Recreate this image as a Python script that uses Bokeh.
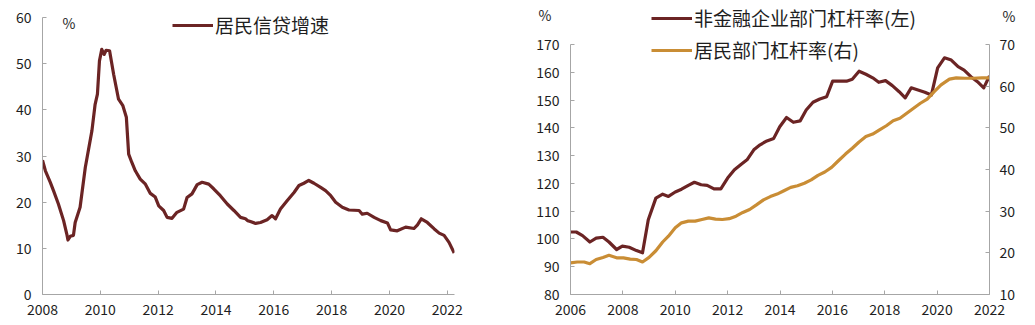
from bokeh.plotting import figure
from bokeh.layouts import row
from bokeh.models import Range1d, LinearAxis, Legend, LegendItem, Label, FixedTicker
from bokeh.embed import file_html
from bokeh.resources import INLINE

# ---- Left panel: household credit growth (%) ----
credit_t = [2008.0, 2008.1, 2008.27, 2008.38, 2008.55, 2008.73, 2008.84, 2008.88, 2008.96, 2009.07,
            2009.13, 2009.3, 2009.48, 2009.71, 2009.82, 2009.9, 2009.97, 2010.05, 2010.13, 2010.2,
            2010.32, 2010.46, 2010.63, 2010.78, 2010.9, 2010.98, 2011.09, 2011.21, 2011.38, 2011.56,
            2011.73, 2011.9, 2012.02, 2012.19, 2012.31, 2012.48, 2012.65, 2012.88, 2013.0, 2013.17,
            2013.35, 2013.52, 2013.75, 2013.92, 2014.15, 2014.39, 2014.62, 2014.85, 2015.02, 2015.1,
            2015.19, 2015.37, 2015.54, 2015.77, 2015.94, 2016.06, 2016.23, 2016.46, 2016.7, 2016.87,
            2017.04, 2017.21, 2017.39, 2017.62, 2017.79, 2017.97, 2018.14, 2018.37, 2018.6, 2018.95,
            2019.06, 2019.23, 2019.47, 2019.7, 2019.93, 2020.04, 2020.27, 2020.56, 2020.85, 2020.97,
            2021.1, 2021.31, 2021.55, 2021.72, 2021.89, 2022.06, 2022.24]
credit_growth = [29.1, 26.8, 24.3, 22.5, 19.6, 16.0, 13.1, 11.8, 12.6, 12.8,
                 15.6, 18.9, 27.5, 35.5, 41.2, 43.4, 50.6, 53.1, 52.0, 52.9,
                 52.8, 47.7, 42.3, 40.9, 38.4, 30.4, 28.6, 26.8, 25.0, 23.9,
                 21.9, 21.1, 19.2, 18.2, 16.7, 16.5, 17.8, 18.5, 21.0, 21.8,
                 23.8, 24.3, 23.9, 22.9, 21.4, 19.6, 18.2, 16.7, 16.4, 16.0,
                 15.8, 15.4, 15.6, 16.2, 17.1, 16.4, 18.5, 20.3, 22.1, 23.6,
                 24.1, 24.7, 24.1, 23.2, 22.5, 21.4, 20.0, 18.9, 18.3, 18.2,
                 17.4, 17.6, 16.7, 16.0, 15.5, 14.0, 13.8, 14.6, 14.3, 15.1,
                 16.4, 15.6, 14.2, 13.3, 12.8, 11.3, 9.0]
left_xticks = [2008, 2010, 2012, 2014, 2016, 2018, 2020, 2022]
left_yticks = [0, 10, 20, 30, 40, 50, 60]

# ---- Right panel: leverage ratios (%) ----
corp_t = [2006.0, 2006.22, 2006.46, 2006.74, 2006.98, 2007.24, 2007.47, 2007.76, 2007.98, 2008.24,
          2008.52, 2008.75, 2008.97, 2009.26, 2009.52, 2009.74, 2010.0, 2010.24, 2010.5, 2010.73,
          2010.99, 2011.22, 2011.48, 2011.74, 2012.0, 2012.26, 2012.52, 2012.74, 2013.0, 2013.24,
          2013.5, 2013.76, 2013.99, 2014.25, 2014.51, 2014.77, 2015.0, 2015.26, 2015.52, 2015.78,
          2016.01, 2016.27, 2016.54, 2016.76, 2017.02, 2017.28, 2017.54, 2017.77, 2018.03, 2018.29,
          2018.55, 2018.78, 2019.01, 2019.27, 2019.53, 2019.78, 2020.02, 2020.28, 2020.54, 2020.8,
          2021.03, 2021.29, 2021.54, 2021.78, 2022.0]
corp_leverage = [102.5, 102.5, 101.2, 98.9, 100.3, 100.6, 98.9, 96.2, 97.4, 97.0,
                 95.8, 95.0, 106.9, 114.7, 116.1, 115.3, 116.9, 117.9, 119.3, 120.4,
                 119.5, 119.3, 118.0, 118.0, 121.9, 124.9, 126.9, 128.5, 132.1, 133.9,
                 135.3, 136.2, 140.4, 143.7, 142.0, 142.5, 146.4, 149.2, 150.4, 151.2,
                 156.8, 156.8, 156.8, 157.5, 160.4, 159.3, 158.0, 156.4, 157.0, 155.2,
                 153.0, 150.8, 154.4, 153.6, 152.8, 151.8, 161.6, 165.2, 164.4, 162.0,
                 160.8, 158.4, 156.6, 154.4, 158.7]
hh_t = [2006.0, 2006.26, 2006.52, 2006.74, 2006.98, 2007.24, 2007.47, 2007.76, 2008.02, 2008.28,
        2008.52, 2008.75, 2009.0, 2009.26, 2009.52, 2009.74, 2010.0, 2010.24, 2010.5, 2010.76,
        2011.02, 2011.28, 2011.54, 2011.8, 2012.06, 2012.32, 2012.58, 2012.84, 2013.1, 2013.37,
        2013.63, 2013.89, 2014.15, 2014.41, 2014.67, 2014.93, 2015.19, 2015.45, 2015.71, 2015.97,
        2016.23, 2016.5, 2016.76, 2017.02, 2017.28, 2017.54, 2017.8, 2018.06, 2018.32, 2018.58,
        2018.84, 2019.1, 2019.36, 2019.62, 2019.89, 2020.15, 2020.47, 2020.73, 2021.06, 2021.38,
        2021.71, 2022.0]
hh_leverage = [17.6, 17.8, 17.8, 17.4, 18.4, 18.9, 19.4, 18.8, 18.8, 18.5,
               18.4, 17.8, 18.9, 20.5, 22.6, 24.0, 26.0, 27.2, 27.6, 27.6,
               28.0, 28.4, 28.1, 28.0, 28.2, 28.8, 29.7, 30.4, 31.5, 32.7,
               33.5, 34.1, 34.9, 35.7, 36.1, 36.7, 37.5, 38.6, 39.4, 40.5,
               42.1, 43.7, 45.1, 46.6, 47.9, 48.5, 49.5, 50.5, 51.7, 52.3,
               53.5, 54.7, 55.9, 56.9, 58.7, 60.3, 61.7, 62.0, 61.9, 61.9,
               62.0, 62.0]
right_xticks = [2006, 2008, 2010, 2012, 2014, 2016, 2018, 2020, 2022]
right_yticks_left = [80, 90, 100, 110, 120, 130, 140, 150, 160, 170]
right_yticks_right = [10, 20, 30, 40, 50, 60, 70]
unit_label = "%"

DARK = "#6b2424"
GOLD = "#c98d35"
AXIS = "#a6a6a6"
TXT = "#1e1e1e"
FONT = "Noto Sans CJK SC"


def style_axis(ax, ticks, bounds=None):
    ax.ticker = FixedTicker(ticks=ticks)
    if bounds is not None:
        ax.bounds = bounds
    ax.axis_line_color = AXIS
    ax.major_tick_line_color = AXIS
    ax.major_tick_in = 4
    ax.major_tick_out = 0
    ax.minor_tick_line_color = None
    ax.major_label_text_font = FONT
    ax.major_label_text_font_size = "14px"
    ax.major_label_text_color = TXT


def unit_axis(range_name, pos, align, standoff):
    # an axis that only carries the "%" unit mark near the top of the panel
    ax = LinearAxis(y_range_name=range_name)
    ax.ticker = FixedTicker(ticks=[pos])
    ax.major_label_overrides = {pos: unit_label}
    ax.axis_line_color = None
    ax.major_tick_line_color = None
    ax.minor_tick_line_color = None
    ax.major_tick_in = 0
    ax.major_tick_out = 0
    ax.major_label_standoff = standoff
    ax.major_label_text_align = align
    ax.major_label_text_font = FONT
    ax.major_label_text_font_size = "14px"
    ax.major_label_text_color = TXT
    return ax


# Frames share top (y=2) and bottom (y=294); axis lines are limited by bounds.
# Left figure
p1 = figure(width=500, height=325, x_range=Range1d(2008, 2022.25), y_range=Range1d(0, 63.25),
            output_backend="svg", toolbar_location=None,
            min_border_left=42, min_border_right=46, min_border_top=2, min_border_bottom=31)
p1.outline_line_color = None
p1.grid.grid_line_color = None
style_axis(p1.xaxis[0], left_xticks)
style_axis(p1.yaxis[0], left_yticks, bounds=(0, 60))
p1.xaxis.major_label_standoff = 9
p1.yaxis.major_label_standoff = 11
r1 = p1.line(credit_t, credit_growth, line_color=DARK, line_width=3.2, line_join="round")
leg1 = Legend(items=[LegendItem(label="居民信贷增速", renderers=[r1])],
              location=(130, 256), orientation="vertical",
              background_fill_alpha=0, border_line_color=None, padding=0, margin=0,
              glyph_width=41, glyph_height=20, label_height=20, label_standoff=2,
              label_text_font=FONT, label_text_font_size="19px", label_text_color=TXT)
p1.add_layout(leg1)
p1.add_layout(Label(x=20, y=272, x_units="screen", y_units="screen", text=unit_label,
                    text_baseline="middle", text_align="left",
                    text_font=FONT, text_font_size="14px", text_color=TXT))

# Right figure
p2 = figure(width=535, height=325, x_range=Range1d(2006, 2022), y_range=Range1d(80, 185.12),
            output_backend="svg", toolbar_location=None,
            min_border_left=70, min_border_right=46, min_border_top=2, min_border_bottom=31)
p2.outline_line_color = None
p2.grid.grid_line_color = None
p2.extra_y_ranges = {"hh": Range1d(10, 80.08)}
style_axis(p2.xaxis[0], right_xticks)
style_axis(p2.yaxis[0], right_yticks_left, bounds=(80, 170))
p2.xaxis.major_label_standoff = 9
p2.yaxis.major_label_standoff = 11
ax_r = LinearAxis(y_range_name="hh")
style_axis(ax_r, right_yticks_right, bounds=(10, 70))
ax_r.major_label_standoff = 10
p2.add_layout(ax_r, "right")
p2.add_layout(unit_axis("default", 180.8, "left", -18), "left")
p2.add_layout(unit_axis("hh", 76.8, "right", -16), "right")
rc = p2.line(corp_t, corp_leverage, line_color=DARK, line_width=3.2, line_join="round")
rh = p2.line(hh_t, hh_leverage, line_color=GOLD, line_width=3.2, line_join="round",
             y_range_name="hh")
leg2 = Legend(items=[LegendItem(label="非金融企业部门杠杆率(左)", renderers=[rc]),
                     LegendItem(label="居民部门杠杆率(右)", renderers=[rh])],
              location=(81, 231), orientation="vertical",
              background_fill_alpha=0, border_line_color=None, padding=0, margin=0,
              spacing=5, glyph_width=41, glyph_height=20, label_height=20, label_standoff=2,
              label_text_font=FONT, label_text_font_size="19px", label_text_color=TXT)
p2.add_layout(leg2)

layout = row(p1, p2)
open("out.html", "w").write(file_html(layout, INLINE))
